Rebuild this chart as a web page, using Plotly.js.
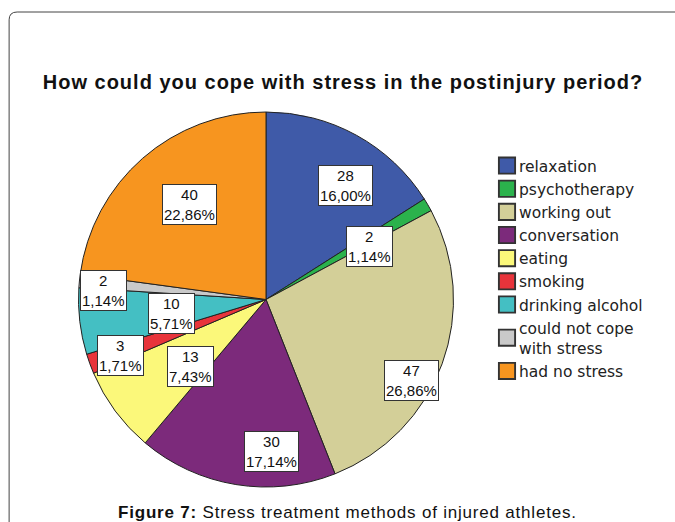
<!DOCTYPE html>
<html>
<head>
<meta charset="utf-8">
<script src="https://cdn.plot.ly/plotly-3.0.1.min.js"></script>
<style>
html,body{margin:0;padding:0;background:#fff;}
#chart{width:675px;height:522px;}
#chart .gtitle{letter-spacing:1px;}
#chart .annotation.caption text{letter-spacing:0.8px;}
</style>
</head>
<body>
<div id="chart"></div>
<script>
// ---- data ----
const categories = ["relaxation","psychotherapy","working out","conversation","eating","smoking","drinking alcohol","could not cope<br>with stress","had no stress"];
const counts = [28, 2, 47, 30, 13, 3, 10, 2, 40];
const percentLabels = ["16,00%","1,14%","26,86%","17,14%","7,43%","1,71%","5,71%","1,14%","22,86%"];
const colors = ["#3f5aa8","#2bb24c","#d3cf98","#7c2a7b","#fbf87a","#e8343b","#44bfc3","#c9c9c9","#f7951f"];

// ---- layout helpers (label placement, not data) ----
const W = 675, H = 522;
const cxPx = 266, cyPx = 299.5, rPx = 187.5;
const labelRadius = [0.74, 0.62, 0.89, 0.81, 0.54, 0.83, 0.51, 0.87, 0.65];
const labelShift  = [6, 3, 9, -11.5, -5, -1, -2, -2.5, 2];

const total = counts.reduce((a,b)=>a+b,0);
let cum = 0;
const annotations = [];
counts.forEach((v,i)=>{
  const mid = (cum + v/2)/total*360 + labelShift[i];
  cum += v;
  const a = mid*Math.PI/180;
  const px = cxPx + rPx*labelRadius[i]*Math.sin(a);
  const py = cyPx - rPx*labelRadius[i]*Math.cos(a);
  annotations.push({
    xref:'paper', yref:'paper', x: px/W, y: 1-py/H,
    xanchor:'center', yanchor:'middle', showarrow:false,
    text: v + '<br>' + percentLabels[i],
    font:{family:'Liberation Sans, Arial, sans-serif', size:15, color:'#111'},
    bgcolor:'#ffffff', bordercolor:'#333', borderwidth:1, borderpad:1
  });
});

annotations.push({
  xref:'paper', yref:'paper', x: 347/W, y: 0, yanchor:'bottom', xanchor:'center', yshift:-2,
  showarrow:false, name:'caption',
  text:'<b>Figure 7:</b> Stress treatment methods of injured athletes.',
  font:{family:'Liberation Sans, Arial, sans-serif', size:17, color:'#111'}
});

const trace = {
  type:'pie',
  labels: categories,
  values: counts,
  sort:false,
  direction:'clockwise',
  rotation:0,
  textinfo:'none',
  hoverinfo:'label+value+percent',
  marker:{colors: colors, line:{color:'#222', width:1}},
  domain:{x:[(cxPx-rPx)/W,(cxPx+rPx)/W], y:[1-(cyPx+rPx)/H, 1-(cyPx-rPx)/H]}
};

const layout = {
  width:W, height:H,
  margin:{l:0,r:0,t:0,b:0},
  paper_bgcolor:'#ffffff',
  showlegend:true,
  title:{text:'How could you cope with stress in the postinjury period?',
         x:343/W, xanchor:'center', y:1-82/H, yanchor:'middle',
         font:{family:'Liberation Sans, Arial, sans-serif', size:20, color:'#111', weight:'bold'}},
  legend:{x:479/W, xanchor:'left', y:1-149/H, yanchor:'top',
          font:{family:'DejaVu Sans, sans-serif', size:15.5, color:'#222'},
          bgcolor:'rgba(0,0,0,0)', traceorder:'normal'},
  annotations: annotations,
  shapes:[{
    type:'path', xref:'paper', yref:'paper',
    path:'M 0.0135,-0.05 L 0.0135,0.962 Q 0.0135,0.977 0.0254,0.977 L 1.05,0.977',
    line:{color:'#444', width:1}
  }]
};

Plotly.newPlot('chart',[trace],layout,{displayModeBar:false, staticPlot:true}).then(()=>{
  const anns = document.querySelectorAll('#chart .annotation');
  const last = anns[anns.length-1];
  if (last) last.classList.add('caption');
  document.querySelectorAll('#chart .legendpoints path').forEach(p=>{
    const t = p.getAttribute('transform') || '';
    p.setAttribute('transform', t + ' translate(8,0) scale(1.35)');
    p.style.strokeWidth = '1.4px';
    p.style.stroke = '#333';
  });
});
</script>
</body>
</html>
